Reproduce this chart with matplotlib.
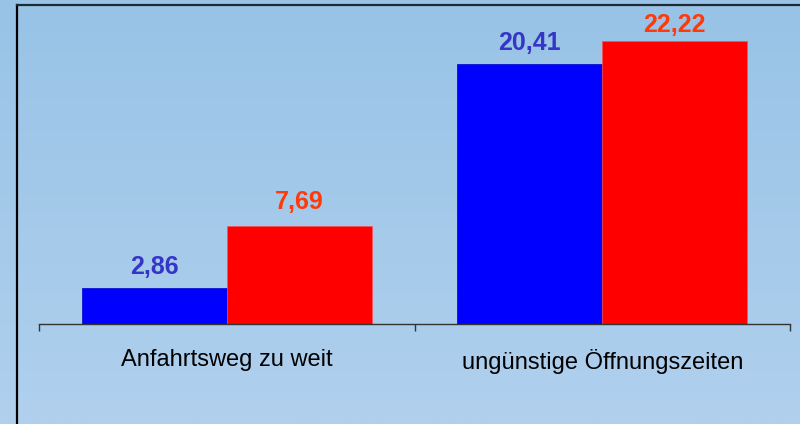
import numpy as np
import matplotlib
matplotlib.use("Agg")
import matplotlib.pyplot as plt
from matplotlib.lines import Line2D

categories = ["Anfahrtsweg zu weit", "ungünstige Öffnungszeiten"]
series_blue = [2.86, 20.41]
series_red = [7.69, 22.22]

plt.rcParams["font.family"] = ["Liberation Sans", "DejaVu Sans"]

W, H = 800, 424
fig = plt.figure(figsize=(W / 100, H / 100), dpi=100)

# background gradient
bg = fig.add_axes([0, 0, 1, 1], zorder=0)
top_c = np.array([152, 195, 230]) / 255
bot_c = np.array([176, 208, 238]) / 255
t = np.linspace(0, 1, 256)[:, None, None]
grad = top_c * (1 - t) + bot_c * t
bg.imshow(np.repeat(grad, 2, axis=1), aspect="auto", extent=[0, 1, 0, 1])
bg.set_axis_off()

# frame lines (left and top)
fx = 17 / W
fy = 1 - 5 / H
fig.add_artist(Line2D([fx, fx], [0, fy], transform=fig.transFigure, color="black", lw=1.6, zorder=5))
fig.add_artist(Line2D([fx, 1], [fy, fy], transform=fig.transFigure, color="#1e2a33", lw=1.6, zorder=5))

ax = fig.add_axes([39 / W, (H - 324) / H, 751 / W, 319 / H], zorder=2)
ax.set_facecolor("none")
ymax = 25.04

x = np.arange(len(categories))
w = 0.386
ax.bar(x - w / 2, series_blue, w, color="#0000ff", edgecolor="#0000cc", linewidth=0.5)
ax.bar(x + w / 2, series_red, w, color="#ff0000", edgecolor="#ff5050", linewidth=0.5)

# labels sit above the bars, but are kept inside the frame
label_cap = ymax - 2.1
for xi, v in zip(x, series_blue):
    ax.text(xi - w / 2, min(v + 1.08, label_cap), f"{v:.2f}".replace(".", ","),
            ha="center", va="baseline", fontsize=18, fontweight="bold", color="#3535c8")
for xi, v in zip(x, series_red):
    ax.text(xi + w / 2, min(v + 1.33, label_cap), f"{v:.2f}".replace(".", ","),
            ha="center", va="baseline", fontsize=18, fontweight="bold", color="#ff3a0a")

ax.set_xlim(-0.5, 1.5)
ax.set_ylim(0, ymax)
ax.set_xticks([-0.5, 0.5, 1.5])
ax.set_xticklabels([])
ax.set_xticks(x, minor=True)
ax.set_xticklabels(categories, minor=True, fontsize=17)
ax.tick_params(axis="x", which="major", direction="out", length=5, width=1, color="#333333")
ax.tick_params(axis="x", which="minor", length=0, pad=18)
ax.set_yticks([])
for s in ["left", "top", "right"]:
    ax.spines[s].set_visible(False)
ax.spines["bottom"].set_color("#333333")
ax.spines["bottom"].set_linewidth(1)

fig.savefig("out.png", dpi=100)
